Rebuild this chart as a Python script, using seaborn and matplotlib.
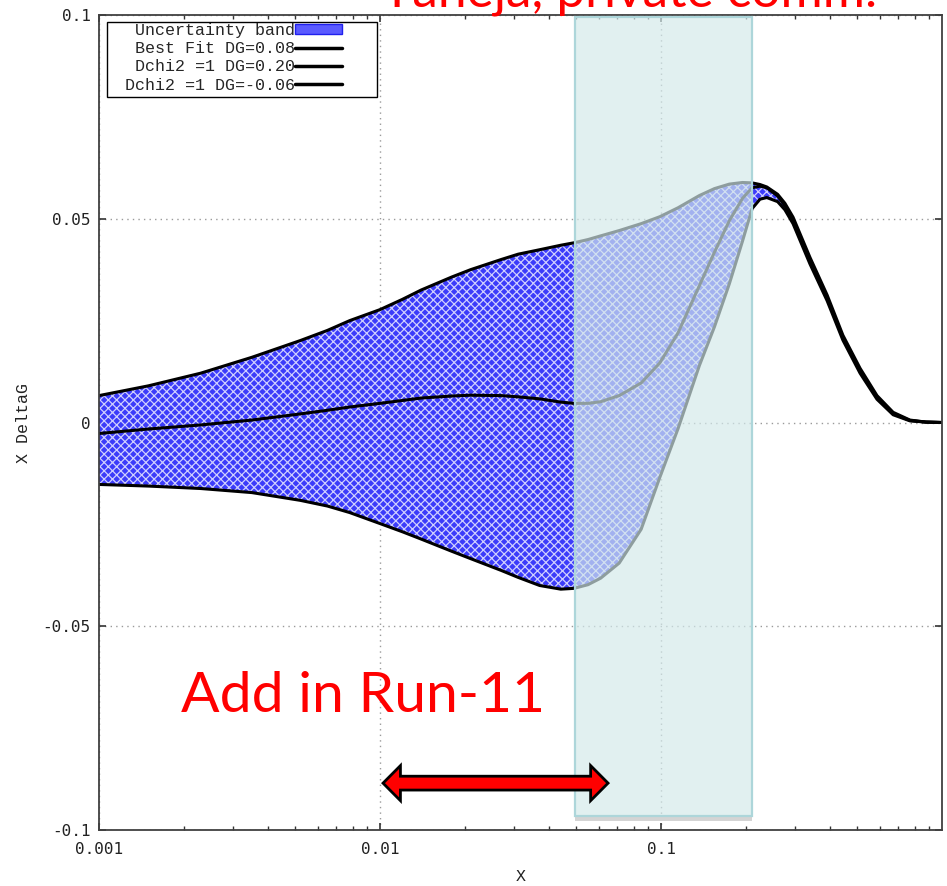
import numpy as np
import pandas as pd
import matplotlib
matplotlib.use("Agg")
import matplotlib.pyplot as plt
import matplotlib.patches as mpatches
from matplotlib.lines import Line2D
import seaborn as sns

# ---------------- data ----------------
x_vals = [0.001, 0.0015, 0.0023, 0.0035, 0.0052, 0.0065, 0.0078, 0.010, 0.012, 0.014,
          0.018, 0.021, 0.027, 0.031, 0.037, 0.044, 0.049, 0.055, 0.061, 0.071,
          0.085, 0.099, 0.115, 0.137, 0.155, 0.175, 0.195, 0.211, 0.225, 0.238,
          0.26, 0.276, 0.295, 0.339, 0.390, 0.444, 0.511, 0.587, 0.670, 0.769,
          0.877, 1.0]

dg_020 = [0.0066, 0.0090, 0.0121, 0.0160, 0.0201, 0.0226, 0.0250, 0.0277, 0.0302, 0.0325,
          0.0357, 0.0375, 0.0400, 0.0413, 0.0424, 0.0435, 0.0441, 0.0449, 0.0458, 0.0471,
          0.0488, 0.0505, 0.0527, 0.0557, 0.0574, 0.0585, 0.0589, 0.0588, 0.0584, 0.0578,
          0.0560, 0.0538, 0.0504, 0.0405, 0.0313, 0.0214, 0.0133, 0.0066, 0.0025, 0.0006,
          0.0001, 0.0]

dg_008 = [-0.0027, -0.0016, -0.0006, 0.0006, 0.0021, 0.0030, 0.0038, 0.0047, 0.0054, 0.0060,
          0.0065, 0.0067, 0.0066, 0.0063, 0.0058, 0.0050, 0.0047, 0.0047, 0.0051, 0.0066,
          0.0097, 0.0146, 0.0220, 0.0336, 0.0418, 0.0495, 0.0550, 0.0576, 0.0580, 0.0576,
          0.0556, 0.0532, 0.0496, 0.0397, 0.0306, 0.0208, 0.0127, 0.0061, 0.0022, 0.0005,
          0.0001, 0.0]

dg_m006 = [-0.0152, -0.0156, -0.0162, -0.0172, -0.0191, -0.0205, -0.0221, -0.0248, -0.0268, -0.0286,
           -0.0316, -0.0334, -0.0363, -0.0380, -0.0400, -0.0409, -0.0407, -0.0398, -0.0382, -0.0345,
           -0.0262, -0.0135, -0.0015, 0.0140, 0.0235, 0.0340, 0.0445, 0.0525, 0.0548, 0.0552,
           0.0542, 0.0522, 0.0488, 0.0389, 0.0299, 0.0202, 0.0121, 0.0057, 0.0019, 0.0004,
           0.0001, 0.0]

labels = ["Uncertainty band", "Best Fit DG=0.08", "Dchi2 =1 DG=0.20", "Dchi2 =1 DG=-0.06"]
x_ticks = [0.001, 0.01, 0.1]
x_ticklabels = ["0.001", "0.01", "0.1"]
y_ticks = [-0.1, -0.05, 0, 0.05, 0.1]
y_ticklabels = ["-0.1", "-0.05", "0", "0.05", "0.1"]

run11_x = [0.0494, 0.211]        # highlighted x range
arrow_x = [0.01025, 0.0648]      # red double arrow ends
arrow_y = -0.0885

df = pd.DataFrame({"x": x_vals, "up": dg_020, "best": dg_008, "low": dg_m006})

# ---------------- style ----------------
sns.set_theme(style="ticks")
plt.rcParams["font.family"] = ["DejaVu Sans"]
plt.rcParams["hatch.linewidth"] = 0.9
mono = ["Liberation Mono", "DejaVu Sans Mono"]

fig = plt.figure(figsize=(9.47, 8.86), dpi=100)
ax = fig.add_axes([99 / 947, 1 - 830 / 886, (942 - 99) / 947, (830 - 15) / 886])

ax.set_xscale("log")
ax.set_xlim(0.001, 1.0)
ax.set_ylim(-0.1, 0.1)

# grid under everything
ax.set_axisbelow(True)
ax.grid(True, which="major", linestyle=(0, (1, 3)), color="#9a9a9a", linewidth=1.0)

# uncertainty band
band = ax.fill_between(df["x"], df["low"], df["up"], facecolor="#3c3cfa",
                       edgecolor="#cfcfff", hatch="xxxx", linewidth=0, zorder=1)

for col in ["up", "best", "low"]:
    sns.lineplot(data=df, x="x", y=col, ax=ax, color="black", linewidth=2.2,
                 zorder=2, estimator=None, sort=False)

# highlighted region (Run-11)
w = run11_x[1] - run11_x[0]
shadow = mpatches.Rectangle((run11_x[0], -0.0978), w, 0.0014,
                            facecolor="#d4d4d4", edgecolor="none", zorder=3)
ax.add_patch(shadow)
box = mpatches.Rectangle((run11_x[0], -0.0965), w, 0.196,
                         facecolor="#d3e9ea", edgecolor="none", alpha=0.68, zorder=4)
ax.add_patch(box)
box_edge = mpatches.Rectangle((run11_x[0], -0.0965), w, 0.196,
                              facecolor="none", edgecolor="#add6da", linewidth=1.6, zorder=4.5)
ax.add_patch(box_edge)

# red double arrow
hl = 10 ** 0.062   # head length factor in log-x
hy = 0.0043        # head half height
sy = 0.00170       # shaft half height
xl, xr = arrow_x
arrow = mpatches.Polygon([
    (xl, arrow_y), (xl * hl, arrow_y + hy), (xl * hl, arrow_y + sy),
    (xr / hl, arrow_y + sy), (xr / hl, arrow_y + hy), (xr, arrow_y),
    (xr / hl, arrow_y - hy), (xr / hl, arrow_y - sy), (xl * hl, arrow_y - sy),
    (xl * hl, arrow_y - hy)], closed=True, facecolor="#ff0000",
    edgecolor="black", linewidth=2.0, joinstyle="miter", zorder=6)
ax.add_patch(arrow)

# ticks & spines
ax.set_xticks(x_ticks)
ax.set_xticklabels(x_ticklabels)
ax.set_yticks(y_ticks)
ax.set_yticklabels(y_ticklabels)
ax.tick_params(which="both", direction="in", top=True, right=True, colors="#333333",
               labelcolor="#222222")
ax.tick_params(which="major", length=5, width=1.2, labelsize=11.5)
ax.tick_params(which="minor", length=3, width=1.0)
ax.tick_params(axis="x", pad=9)
ax.tick_params(axis="y", pad=6)
for lab in ax.get_xticklabels() + ax.get_yticklabels():
    lab.set_family("DejaVu Sans Mono")
for s in ax.spines.values():
    s.set_color("#404040")
    s.set_linewidth(1.3)

ax.set_xlabel("X", family=mono, fontsize=12, labelpad=8, color="#222222")
ax.set_ylabel("X DeltaG", family=mono, fontsize=12, labelpad=8, color="#222222")

# legend (gnuplot style: text right-aligned, sample on the right)
h_band = mpatches.Patch(facecolor="#5a5aff", edgecolor="#2020ee", linewidth=1.0)
h_line = Line2D([], [], color="black", linewidth=2.5)
leg = ax.legend([h_band, h_line, h_line, h_line], labels, loc="upper right",
                bbox_to_anchor=((342 - 99) / 843, (830 - 23) / 815), borderaxespad=0,
                markerfirst=False, frameon=False,
                prop={"family": mono, "size": 12},
                handlelength=2.8, handletextpad=0.0, labelspacing=0.19,
                borderpad=0.0, handleheight=0.6)
leg.set_zorder(10)
# gnuplot-like key frame (wider than the entries)
key_frame = mpatches.Rectangle(((107 - 99) / 843, (830 - 97) / 815), (377 - 107) / 843,
                               (97 - 22) / 815, transform=ax.transAxes, facecolor="white",
                               edgecolor="black", linewidth=1.0, zorder=9)
ax.add_patch(key_frame)

# red annotations
fig.text(181 / 947, 1 - 712 / 886, "Add in Run-11", family="Lato", fontsize=41,
         color="#ff0000", ha="left", va="baseline")
fig.text(877 / 947, 1 - 7 / 886, "Taneja, private comm.", family="Lato", fontsize=37,
         color="#ff0000", ha="right", va="baseline")

fig.savefig("out.png", dpi=100)
